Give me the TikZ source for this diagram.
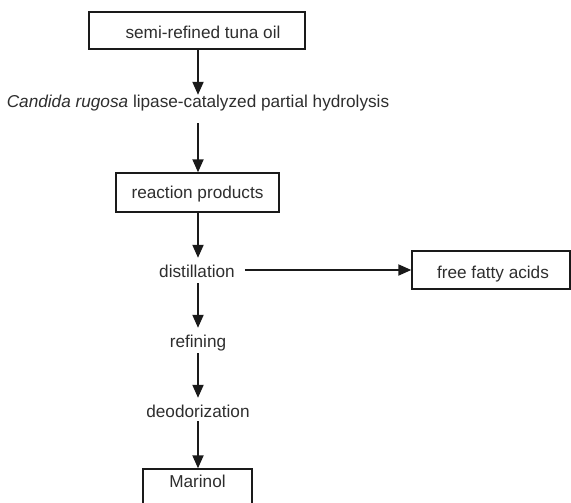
\documentclass[tikz,border=0pt]{standalone}
\usepackage{fontspec}
\setmainfont{Liberation Sans}
\usetikzlibrary{arrows.meta}
\definecolor{txt}{HTML}{2E2E2E}
\definecolor{ln}{HTML}{1A1A1A}
\begin{document}
\begin{tikzpicture}[x=1pt,y=-1pt,
  every node/.style={font=\fontsize{17.2}{20}\selectfont, text=txt},
  boxnode/.style={draw=ln, line width=1.4pt, inner sep=0pt, minimum height=#1},
  boxnode/.default=37pt,
  lbl/.style={inner sep=0pt, text height=12pt, text depth=4pt},
  arr/.style={draw=ln, line width=2pt, -{Triangle[width=11pt,length=13pt]}}]
\useasboundingbox (0,0) rectangle (571,503);
\clip (0,0) rectangle (571,503);
\node[boxnode, minimum width=216pt, text height=16pt, text depth=0pt] (b1) at (197,30.5) {\hspace*{12pt}semi-refined tuna oil};
\node[lbl] (hyd) at (198,103) {\textit{Candida rugosa} lipase-catalyzed partial hydrolysis};
\node[boxnode=39pt, minimum width=163pt, text height=14.4pt, text depth=1.6pt] (b2) at (197.5,192.5) {reaction products};
\node[lbl] (dist) at (197,273) {distillation};
\node[boxnode=38pt, minimum width=158pt, text height=16pt, text depth=0pt] (ffa) at (491,270) {\hspace*{4pt}free fatty acids};
\node[lbl] (ref) at (198,343) {refining};
\node[lbl] (deo) at (198,413) {deodorization};
\node[boxnode=39pt, minimum width=109pt] (mar) at (197.5,488.5) {};
\node[lbl] (martxt) at (197.5,483) {Marinol};
\draw[arr, shorten >=0pt] (b1.south -| hyd) -- (hyd.north);
\draw[arr, shorten <=12pt] (hyd.south) -- (b2.north -| hyd);
\draw[arr, shorten >=7pt] (b2.south -| hyd) -- (dist.north -| hyd);
\draw[arr, shorten <=2pt, shorten >=7pt] (dist.south -| hyd) -- (ref.north);
\draw[arr, shorten <=2pt, shorten >=7pt] (ref.south) -- (deo.north);
\draw[arr] (deo.south) -- (mar.north -| deo);
\draw[arr, shorten <=10pt] (dist.east |- ffa.west) -- (ffa.west);
\end{tikzpicture}
\end{document}
